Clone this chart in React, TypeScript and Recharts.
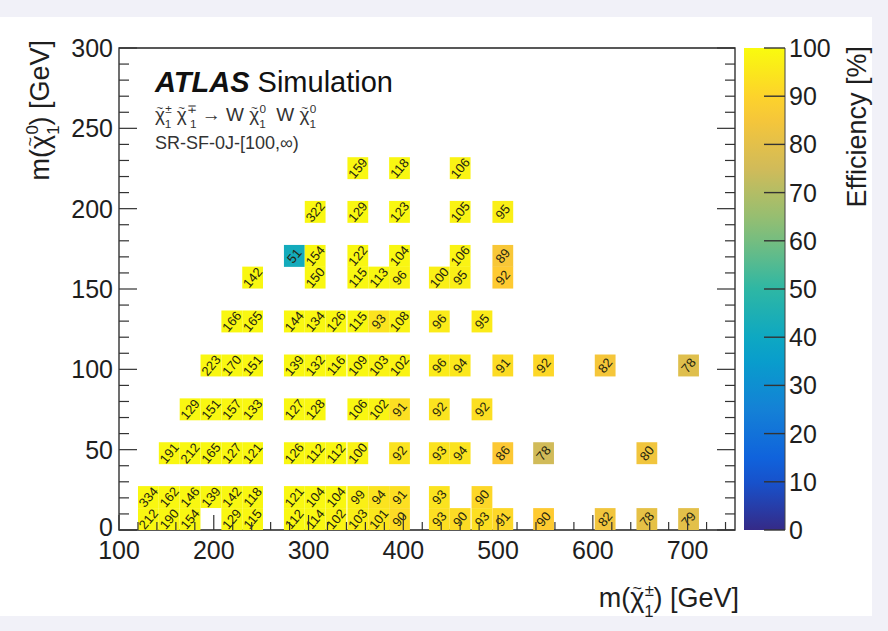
import React from 'react';
import { ScatterChart, Scatter, XAxis, YAxis, ReferenceArea } from 'recharts';

const FONT = '"Liberation Sans", Arial, Helvetica, sans-serif';

// ---- axes ----
const X_DOMAIN: [number, number] = [100, 750];
const Y_DOMAIN: [number, number] = [0, 300];
const xMajorTicks = [100, 200, 300, 400, 500, 600, 700];
const yMajorTicks = [0, 50, 100, 150, 200, 250, 300];
const zTicks = [0, 10, 20, 30, 40, 50, 60, 70, 80, 90, 100];
const xMinorStep = 20;
const yMinorStep = 10;

// ---- data (rows of the efficiency map) ----
const rowY = [6.8, 20.5, 47.8, 75.1, 102.4, 129.8, 157.1, 170.6, 198.0, 225.2];
const rowX: number[][] = [
  [131, 153, 175, 219, 241, 285, 307, 329, 352, 374, 396, 438, 460, 483, 505, 548, 613, 657, 701],
  [131, 153, 175, 197, 219, 241, 285, 307, 329, 352, 374, 396, 438, 483],
  [153, 175, 197, 219, 241, 285, 307, 329, 352, 396, 438, 460, 505, 548, 657],
  [175, 197, 219, 241, 285, 307, 352, 374, 396, 438, 483],
  [197, 219, 241, 285, 307, 329, 352, 374, 396, 438, 460, 505, 548, 613, 701],
  [219, 241, 285, 307, 329, 352, 374, 396, 438, 483],
  [241, 307, 352, 374, 396, 438, 460, 505],
  [285, 307, 352, 396, 460, 505],
  [307, 352, 396, 460, 505],
  [352, 396, 460],
];
const rowLabels: number[][] = [
  [212, 190, 154, 129, 115, 112, 114, 102, 103, 101, 90, 93, 90, 93, 91, 90, 82, 78, 79],
  [334, 162, 146, 139, 142, 118, 121, 104, 104, 99, 94, 91, 93, 90],
  [191, 212, 165, 127, 121, 126, 112, 112, 100, 92, 93, 94, 86, 78, 80],
  [129, 151, 157, 133, 127, 128, 106, 102, 91, 92, 92],
  [223, 170, 151, 139, 132, 116, 109, 103, 102, 96, 94, 91, 92, 82, 78],
  [166, 165, 144, 134, 126, 115, 93, 108, 96, 95],
  [142, 150, 115, 113, 96, 100, 95, 92],
  [51, 154, 122, 104, 106, 89],
  [322, 129, 123, 105, 95],
  [159, 118, 106],
];
const rowEff: number[][] = [
  [99, 99, 99, 99, 99, 99, 99, 98, 97, 95, 92, 93, 92, 93, 91, 88, 84, 81, 80],
  [99, 99, 99, 99, 99, 99, 99, 99, 99, 97, 94, 93, 94, 91],
  [99, 99, 99, 99, 99, 99, 99, 99, 98, 94, 94, 94, 87, 75, 84],
  [99, 99, 99, 99, 99, 99, 99, 98, 93, 94, 93],
  [99, 99, 99, 99, 99, 99, 99, 98, 98, 96, 95, 92, 91, 85, 79],
  [99, 99, 99, 99, 99, 99, 94, 98, 96, 96],
  [99, 99, 99, 99, 98, 97, 97, 88],
  [42, 99, 99, 99, 98, 86],
  [99, 99, 99, 98, 97],
  [99, 99, 98],
];

const cells = rowY.flatMap((y, r) =>
  rowX[r].map((x, i) => ({ x, y, label: String(rowLabels[r][i]), eff: rowEff[r][i] }))
);

// ---- layout ----
const W = 888;
const H = 631;
const PLOT_L = 119;
const PLOT_R = 735;
const PLOT_T = 48;
const PLOT_B = 530;
// axes take 1px each, margins compensate
const MARGIN = { top: PLOT_T - 1, right: W - PLOT_R - 1, bottom: H - PLOT_B - 1, left: PLOT_L - 1 };
const CELL_W = ((PLOT_R - PLOT_L) / (X_DOMAIN[1] - X_DOMAIN[0])) * 21.92;
const CELL_H = ((PLOT_B - PLOT_T) / (Y_DOMAIN[1] - Y_DOMAIN[0])) * 13.65;

const TEXT = '#1e1e1e';
const TICK_FS = 25;
const TITLE_FS = 27;

// ROOT kBird palette
const birdStops = [0, 0.125, 0.25, 0.375, 0.5, 0.625, 0.75, 0.875, 1];
const birdR = [0.2082, 0.0592, 0.078, 0.0232, 0.1802, 0.5301, 0.8186, 0.9956, 0.9764];
const birdG = [0.1664, 0.3599, 0.5041, 0.6419, 0.7178, 0.7492, 0.7328, 0.7862, 0.9832];
const birdB = [0.5293, 0.8684, 0.8385, 0.7914, 0.6425, 0.4662, 0.3499, 0.1968, 0.0539];

function bird(t: number): string {
  const v = Math.max(0, Math.min(1, t));
  let k = 0;
  while (k < birdStops.length - 2 && v > birdStops[k + 1]) k++;
  const f = (v - birdStops[k]) / (birdStops[k + 1] - birdStops[k]);
  const c = (a: number[]) => Math.round(255 * (a[k] + (a[k + 1] - a[k]) * f));
  return `rgb(${c(birdR)},${c(birdG)},${c(birdB)})`;
}

function range(a: number, b: number, s: number) {
  const out: number[] = [];
  for (let v = a; v <= b + 1e-9; v += s) out.push(v);
  return out;
}
const xTicks = range(X_DOMAIN[0], X_DOMAIN[1] - 10, xMinorStep);
const yTicks = range(Y_DOMAIN[0], Y_DOMAIN[1], yMinorStep);

const isXMajor = (v: number) => xMajorTicks.includes(v);
const isYMajor = (v: number) => yMajorTicks.includes(v);

const BottomTick = (p: any) => {
  const v = p.payload.value;
  const major = isXMajor(v);
  return (
    <g>
      <line x1={p.x} y1={PLOT_B} x2={p.x} y2={PLOT_B - (major ? 15 : 8)} stroke="#333" strokeWidth={1.2} />
      {major && (
        <text x={p.x} y={PLOT_B + 29} textAnchor="middle" fontSize={TICK_FS} fontFamily={FONT} fill={TEXT}>
          {v}
        </text>
      )}
    </g>
  );
};
const TopTick = (p: any) => {
  const major = isXMajor(p.payload.value);
  return <line x1={p.x} y1={PLOT_T} x2={p.x} y2={PLOT_T + (major ? 15 : 8)} stroke="#333" strokeWidth={1.2} />;
};
const LeftTick = (p: any) => {
  const v = p.payload.value;
  const major = isYMajor(v);
  return (
    <g>
      <line x1={PLOT_L} y1={p.y} x2={PLOT_L + (major ? 18 : 10)} y2={p.y} stroke="#333" strokeWidth={1.2} />
      {major && (
        <text x={PLOT_L - 6} y={p.y + (v === 0 ? 6 : 9)} textAnchor="end" fontSize={TICK_FS} fontFamily={FONT} fill={TEXT}>
          {v}
        </text>
      )}
    </g>
  );
};
const RightTick = (p: any) => {
  const major = isYMajor(p.payload.value);
  return <line x1={PLOT_R} y1={p.y} x2={PLOT_R - (major ? 18 : 10)} y2={p.y} stroke="#333" strokeWidth={1.2} />;
};

const CellRect = (p: any) => (
  <rect x={p.cx - CELL_W / 2} y={p.cy - CELL_H / 2} width={CELL_W} height={CELL_H} fill={bird(p.payload.eff / 100)} />
);
const CellLabel = (p: any) => (
  <text
    transform={`translate(${p.cx},${p.cy}) rotate(-50)`}
    textAnchor="middle"
    dominantBaseline="central"
    fontSize={13}
    fontFamily={FONT}
    fill="#26260f"
  >
    {p.payload.label}
  </text>
);

// chi with a tilde and stacked super/subscript, followed by text on the baseline
function chi(sup: string, sub: string, fs: number, key: string, after: string) {
  const sfs = fs * 0.62;
  const tfs = fs * 0.6;
  return [
    <tspan key={key + 'c'}>χ</tspan>,
    <tspan key={key + 't'} dx={-fs * 0.44} dy={-fs * 0.5} fontSize={tfs}>~</tspan>,
    <tspan key={key + 'p'} dx={fs * 0.1} dy={fs * 0.08} fontSize={sfs}>{sup}</tspan>,
    <tspan key={key + 'b'} dx={-sfs * 0.58} dy={fs * 0.8} fontSize={sfs}>{sub}</tspan>,
    <tspan key={key + 'r'} dy={-fs * 0.38}>{after}</tspan>,
  ];
}

const CB_L = 744;
const CB_R = 785;

function Overlay() {
  const cbH = PLOT_B - PLOT_T;
  const yOf = (z: number) => PLOT_B - (z / 100) * cbH;
  const stops = range(0, 100, 5);
  return (
    <svg width={W} height={H} style={{ position: 'absolute', left: 0, top: 0, pointerEvents: 'none' }}>
      <defs>
        <linearGradient id="bird" x1="0" y1="1" x2="0" y2="0">
          {stops.map((s) => (
            <stop key={s} offset={`${s}%`} stopColor={bird(s / 100)} />
          ))}
        </linearGradient>
      </defs>
      {/* colour bar */}
      <rect x={CB_L} y={PLOT_T} width={CB_R - CB_L} height={cbH} fill="url(#bird)" />
      <line x1={CB_R} y1={PLOT_T} x2={CB_R} y2={PLOT_B} stroke="#444" strokeWidth={1} />
      {zTicks.map((z) => (
        <g key={z}>
          <line x1={CB_R} y1={yOf(z)} x2={CB_R - 21} y2={yOf(z)} stroke="#333" strokeWidth={1.4} />
          <text x={CB_R + 4} y={yOf(z) + 9} fontSize={TICK_FS} fontFamily={FONT} fill={TEXT}>
            {z}
          </text>
        </g>
      ))}
      <text
        transform={`translate(866,46) rotate(-90)`}
        textAnchor="end"
        fontSize={TITLE_FS}
        fontFamily={FONT}
        fill={TEXT}
      >
        Efficiency [%]
      </text>

      {/* axis titles */}
      <text transform="translate(49,40) rotate(-90)" textAnchor="end" fontSize={TITLE_FS} fontFamily={FONT} fill={TEXT}>
        <tspan>m(</tspan>
        {chi('0', '1', TITLE_FS, 'ya', ') [GeV]')}
      </text>
      <text x={739} y={607} textAnchor="end" fontSize={TITLE_FS} fontFamily={FONT} fill={TEXT}>
        <tspan>m(</tspan>
        {chi('±', '1', TITLE_FS, 'xa', ') [GeV]')}
      </text>

      {/* labels */}
      <text x={155} y={92} fontSize={29} fontFamily={FONT} fill="#111">
        <tspan fontWeight="bold" fontStyle="italic">ATLAS</tspan>
        <tspan> Simulation</tspan>
      </text>
      <text x={155} y={121} fontSize={19} fontFamily={FONT} fill="#333">
        {chi('±', '1', 19, 'a', '\u00a0')}
        {chi('∓', '1', 19, 'b', '\u00a0→ W\u00a0')}
        {chi('0', '1', 19, 'c', '\u00a0\u00a0W\u00a0')}
        {chi('0', '1', 19, 'd', '\u00a0')}
      </text>
      <text x={155} y={149} fontSize={18} fontFamily={FONT} fill="#333">
        SR-SF-0J-[100,∞)
      </text>
    </svg>
  );
}

export default function App() {
  return (
    <div style={{ position: 'absolute', left: 0, top: 0, width: W, height: H, background: '#f1f1f8', overflow: 'hidden' }}>
      <div style={{ position: 'absolute', left: 0, top: 17, width: 872, height: 599, background: '#ffffff' }} />
      <div style={{ position: 'absolute', left: 0, top: 0 }}>
        <ScatterChart width={W} height={H} margin={MARGIN}>
          <XAxis
            xAxisId="b"
            type="number"
            dataKey="x"
            orientation="bottom"
            domain={X_DOMAIN}
            allowDataOverflow
            ticks={xTicks}
            interval={0}
            tickSize={0}
            tickMargin={0}
            height={1}
            axisLine={false}
            tick={BottomTick}
          />
          <XAxis
            xAxisId="t"
            type="number"
            orientation="top"
            domain={X_DOMAIN}
            allowDataOverflow
            ticks={xTicks}
            interval={0}
            tickSize={0}
            tickMargin={0}
            height={1}
            axisLine={false}
            tick={TopTick}
          />
          <YAxis
            yAxisId="l"
            type="number"
            dataKey="y"
            orientation="left"
            domain={Y_DOMAIN}
            allowDataOverflow
            ticks={yTicks}
            interval={0}
            tickSize={0}
            tickMargin={0}
            width={1}
            axisLine={false}
            tick={LeftTick}
          />
          <YAxis
            yAxisId="r"
            type="number"
            orientation="right"
            domain={Y_DOMAIN}
            allowDataOverflow
            ticks={yTicks}
            interval={0}
            tickSize={0}
            tickMargin={0}
            width={1}
            axisLine={false}
            tick={RightTick}
          />
          <Scatter xAxisId="b" yAxisId="l" data={cells} shape={CellRect} isAnimationActive={false} />
          <Scatter xAxisId="b" yAxisId="l" data={cells} shape={CellLabel} isAnimationActive={false} />
          <ReferenceArea
            xAxisId="b"
            yAxisId="l"
            x1={X_DOMAIN[0]}
            x2={X_DOMAIN[1]}
            y1={Y_DOMAIN[0]}
            y2={Y_DOMAIN[1]}
            fill="none"
            fillOpacity={0}
            stroke="#222"
            strokeWidth={1.3}
            ifOverflow="visible"
          />
        </ScatterChart>
      </div>
      <Overlay />
    </div>
  );
}
